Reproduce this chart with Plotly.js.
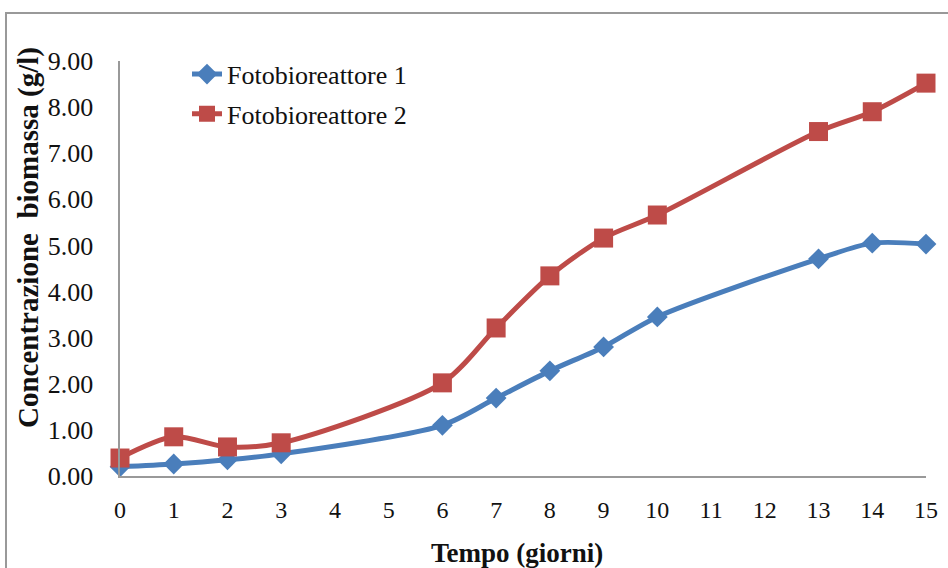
<!DOCTYPE html>
<html>
<head>
<meta charset="utf-8">
<script src="https://cdn.plot.ly/plotly-3.0.1.min.js"></script>
<style>html,body{margin:0;padding:0;background:#fff;}#chart{width:948px;height:568px;}</style>
</head>
<body>
<div id="chart"></div>
<script>
const days = [0, 1, 2, 3, 6, 7, 8, 9, 10, 13, 14, 15];
const fotobioreattore1 = [0.20, 0.26, 0.35, 0.48, 1.10, 1.69, 2.28, 2.80, 3.45, 4.71, 5.05, 5.03];
const fotobioreattore2 = [0.39, 0.85, 0.63, 0.72, 2.02, 3.21, 4.34, 5.16, 5.66, 7.47, 7.90, 8.52];
const seriesNames = ["Fotobioreattore 1", "Fotobioreattore 2"];
const xTicks = [0,1,2,3,4,5,6,7,8,9,10,11,12,13,14,15];
const yTicks = [0,1,2,3,4,5,6,7,8,9];
const yTickText = yTicks.map(v => v.toFixed(2) + "\u00a0\u00a0\u00a0");
const xTitle = "Tempo (giorni)";
const yTitle = "Concentrazione\u00a0 biomassa (g/l)";

const font = "Liberation Serif";
const traces = [
  {x: days, y: fotobioreattore1, name: seriesNames[0], legendgroup: "a", mode: "lines+markers",
   line: {color: "#4A7EBB", width: 5, shape: "spline", smoothing: 0.8},
   marker: {symbol: "diamond", size: 16, color: "#4A7EBB"}, cliponaxis: false},
  {x: days, y: fotobioreattore2, name: seriesNames[1], legendgroup: "b", mode: "lines+markers",
   line: {color: "#BE4B48", width: 5, shape: "spline", smoothing: 0.8},
   marker: {symbol: "square", size: 19, color: "#BE4B48"}, cliponaxis: false}
];
const layout = {
  width: 948, height: 568,
  margin: {l: 120, r: 22, t: 61, b: 92},
  paper_bgcolor: "#fff", plot_bgcolor: "#fff",
  font: {family: font, size: 24, color: "#111"},
  showlegend: true,
  legend: {x: (187-120)/806, y: 1.025, xanchor: "left", yanchor: "top", bgcolor: "rgba(0,0,0,0)",
           font: {family: font, size: 26, color: "#111"}, traceorder: "grouped", tracegroupgap: 3},
  xaxis: {range: [0, 15], tickvals: xTicks, ticktext: xTicks.map(String), showgrid: false,
          zeroline: false, showline: true, linecolor: "#999", linewidth: 2,
          ticks: "outside", ticklen: 11, tickcolor: "rgba(0,0,0,0)",
          tickfont: {family: font, size: 24, color: "#111"}, fixedrange: true},
  yaxis: {range: [0, 9], tickvals: yTicks, ticktext: yTickText, showgrid: false,
          zeroline: false, showline: true, linecolor: "#999", linewidth: 2, ticks: "",
          tickfont: {family: font, size: 26, color: "#111"}, fixedrange: true},
  annotations: [
    {text: "<b>" + xTitle + "</b>", xref: "paper", yref: "paper", x: (517-120)/806, y: (476-553)/415,
     xanchor: "center", yanchor: "middle", showarrow: false, font: {family: font, size: 27, color: "#111"}},
    {text: "<b>" + yTitle + "</b>", xref: "paper", yref: "paper", x: (29-120)/806, y: (476-238)/415,
     xanchor: "center", yanchor: "middle", textangle: -90, showarrow: false, font: {family: font, size: 29, color: "#111"}}
  ],
  shapes: [
    {type: "rect", xref: "paper", yref: "paper", x0: (6-120)/806, x1: (960-120)/806,
     y0: (476-580)/415, y1: (476-13)/415, line: {color: "#999", width: 2}, fillcolor: "rgba(0,0,0,0)", layer: "below"}
  ]
};
Plotly.newPlot("chart", traces, layout, {displayModeBar: false, staticPlot: true});
</script>
</body>
</html>
